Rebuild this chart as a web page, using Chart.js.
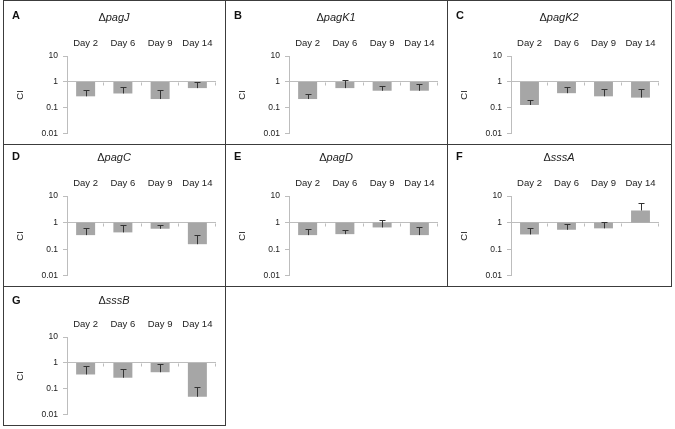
<!DOCTYPE html>
<html><head><meta charset="utf-8">
<script src="https://cdn.jsdelivr.net/npm/chart.js@4.4.0/dist/chart.umd.min.js"></script>
<style>
html,body{margin:0;padding:0;background:#fff}
body{width:675px;height:429px;overflow:hidden;position:relative;font-family:'Liberation Sans',Arial,sans-serif}
.wrap{position:absolute}
.wrap canvas{display:block}
.box{position:absolute;border:1px solid #3c3c3c;box-sizing:border-box;pointer-events:none}
.lt{position:absolute;font-weight:bold;font-size:11px;line-height:11px;color:#111}
.ti{position:absolute;font-size:11px;line-height:11px;color:#222;white-space:nowrap;transform:translateX(-50%)}
</style></head><body>
<script>
// ---- data ----
const days = ['Day 2', 'Day 6', 'Day 9', 'Day 14'];
const yTickValues = [0.01, 0.1, 1, 10];
const yTickLabels = ['0.01', '0.1', '1', '10'];
const panelLetters = ['A', 'B', 'C', 'D', 'E', 'F', 'G'];
const genes = ['pagJ', 'pagK1', 'pagK2', 'pagC', 'pagD', 'sssA', 'sssB'];

const ciPagJ  = [0.28, 0.36, 0.22, 0.58];
const errPagJ = [0.48, 0.65, 0.48, 1.0];
const ciPagK1  = [0.22, 0.58, 0.46, 0.46];
const errPagK1 = [0.34, 1.16, 0.68, 0.86];
const ciPagK2  = [0.13, 0.37, 0.28, 0.25];
const errPagK2 = [0.20, 0.66, 0.56, 0.56];
const ciPagC  = [0.34, 0.43, 0.59, 0.155];
const errPagC = [0.63, 0.84, 0.84, 0.35];
const ciPagD  = [0.34, 0.37, 0.66, 0.34];
const errPagD = [0.57, 0.53, 1.3, 0.66];
const ciSssA  = [0.36, 0.54, 0.61, 2.86];
const errSssA = [0.63, 0.89, 1.03, 5.3];
const ciSssB  = [0.36, 0.27, 0.44, 0.05];
const errSssB = [0.74, 0.59, 0.92, 0.12];

const ciValues = [ciPagJ, ciPagK1, ciPagK2, ciPagC, ciPagD, ciSssA, ciSssB];
const errTops  = [errPagJ, errPagK1, errPagK2, errPagC, errPagD, errSssA, errSssB];

// ---- layout ----
const colLeft = [3, 225, 447];
const colWidth = [222, 222, 224];
const rowTop = [0, 144, 286];
const rowHeight = [144, 142, 139];
const chartTopRel = [56, 52, 51];
const chartBottomRel = [135, 132, 130];
const letterCenter = [15.5, 156.8, 300.8];
const titleCenter = [17.8, 157.8, 300.8];
const axisColor = '#bdbdbd';
const barColor = '#a6a6a6';
const FONT = "'Liberation Sans', Arial, sans-serif";

const errPlugin = {
  id: 'errbars',
  afterDatasetsDraw(chart) {
    const { ctx, scales: { x, y } } = chart;
    const tops = chart.options.plugins.errbars.tops;
    const vals = chart.data.datasets[0].data;
    ctx.save();
    // small tick marks on the baseline (value 1)
    const base = Math.round(y.getPixelForValue(1)) + 0.5;
    ctx.strokeStyle = axisColor; ctx.lineWidth = 1;
    const cw = (x.right - x.left) / days.length;
    ctx.beginPath();
    for (let i = 1; i <= days.length; i++) {
      const bx = Math.round(x.left + i * cw) - 0.5;
      ctx.moveTo(bx, base); ctx.lineTo(bx, base + 3);
    }
    ctx.stroke();
    // error bars
    ctx.strokeStyle = '#333'; ctx.lineWidth = 1;
    ctx.beginPath();
    for (let i = 0; i < tops.length; i++) {
      const px = Math.round(x.getPixelForValue(i)) + 0.5;
      const y0 = y.getPixelForValue(vals[i][1]);
      const y1 = Math.round(y.getPixelForValue(tops[i])) + 0.5;
      ctx.moveTo(px, y0); ctx.lineTo(px, y1);
      ctx.moveTo(px - 3, y1); ctx.lineTo(px + 3, y1);
    }
    ctx.stroke();
    ctx.restore();
  }
};

function makePanel(i) {
  const col = i % 3, row = Math.floor(i / 3);
  const L = colLeft[col], T = rowTop[row], W = colWidth[col], H = rowHeight[row];
  const ct = chartTopRel[row], cb = chartBottomRel[row];

  const wrap = document.createElement('div');
  wrap.className = 'wrap';
  wrap.style.left = L + 'px'; wrap.style.top = T + 'px';
  wrap.style.width = W + 'px'; wrap.style.height = H + 'px';
  const cv = document.createElement('canvas');
  cv.width = W; cv.height = H;
  cv.style.width = W + 'px'; cv.style.height = H + 'px';
  wrap.appendChild(cv);
  document.body.appendChild(wrap);

  const box = document.createElement('div');
  box.className = 'box';
  box.style.left = L + 'px'; box.style.top = T + 'px';
  box.style.width = (W + 1) + 'px'; box.style.height = (H + 1) + 'px';
  document.body.appendChild(box);

  const lt = document.createElement('div');
  lt.className = 'lt';
  lt.textContent = panelLetters[i];
  lt.style.left = (L + 9) + 'px';
  lt.style.top = (letterCenter[row] - 0.49 * 11) + 'px';
  document.body.appendChild(lt);

  const ti = document.createElement('div');
  ti.className = 'ti';
  ti.innerHTML = '\u0394<i>' + genes[i] + '</i>';
  ti.style.left = (L + W / 2) + 'px';
  ti.style.top = (titleCenter[row] - 0.49 * 11) + 'px';
  document.body.appendChild(ti);

  new Chart(cv, {
    type: 'bar',
    data: {
      labels: days,
      datasets: [{
        data: ciValues[i].map(v => [1, v]),
        backgroundColor: barColor,
        borderWidth: 0,
        barPercentage: 0.51,
        categoryPercentage: 1
      }]
    },
    options: {
      responsive: false,
      animation: false,
      devicePixelRatio: 1,
      layout: { padding: { left: 0, top: 0, right: W - 213 - (col === 2 ? -1 : 0), bottom: H - cb } },
      plugins: {
        legend: { display: false },
        tooltip: { enabled: false },
        errbars: { tops: errTops[i] }
      },
      scales: {
        x: {
          type: 'category',
          position: 'top',
          grid: { display: false, drawTicks: false },
          border: { display: false },
          ticks: { font: { family: FONT, size: 9.5 }, color: '#222', padding: 7, maxRotation: 0, autoSkip: false },
          afterFit: s => { s.height = ct; }
        },
        y: {
          type: 'logarithmic',
          min: 0.01, max: 10,
          afterBuildTicks: s => { s.ticks = yTickValues.map(v => ({ value: v })); },
          afterFit: s => { s.width = 64; },
          ticks: {
            autoSkip: false,
            font: { family: FONT, size: 8.5 }, color: '#222', padding: 5,
            callback: v => yTickLabels[yTickValues.indexOf(v)]
          },
          grid: {
            color: c => (c.tick && c.tick.value === 1) ? axisColor : 'rgba(0,0,0,0)',
            tickColor: axisColor, tickLength: 4, lineWidth: 1
          },
          border: { display: true, color: axisColor },
          title: { display: true, text: 'CI', font: { family: FONT, size: 9.5 }, color: '#222', padding: { top: 12, bottom: 0 } }
        }
      }
    },
    plugins: [errPlugin]
  });
}

for (let i = 0; i < panelLetters.length; i++) makePanel(i);
</script>
</body></html>
